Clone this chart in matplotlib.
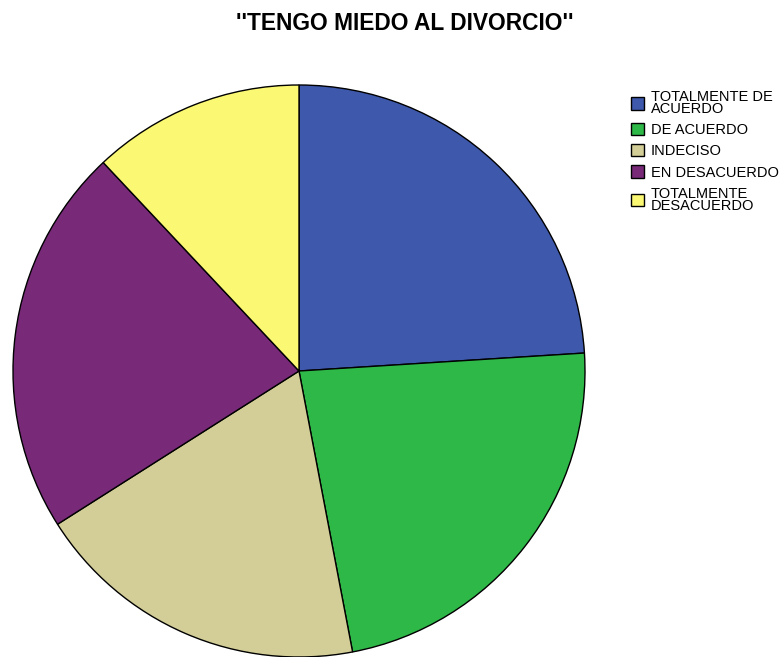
import matplotlib
matplotlib.use('Agg')
import matplotlib.pyplot as plt

# respuestas (porcentaje)
labels = ['TOTALMENTE DE\nACUERDO', 'DE ACUERDO', 'INDECISO',
          'EN DESACUERDO', 'TOTALMENTE\nDESACUERDO']
values = [24, 23, 19, 22, 12]
colors = ['#3E58AC', '#2EB848', '#D3CE97', '#782A79', '#FBF873']

plt.rcParams['font.family'] = ['Liberation Sans', 'DejaVu Sans']

fig = plt.figure(figsize=(7.81, 6.57), dpi=100, facecolor='white')

# pie centered at (299, 371) px, radius 286 px
ax = fig.add_axes([13/781, 0.0, 572/781, 572/657])
wedges, _ = ax.pie(values, colors=colors, startangle=90, counterclock=False,
                   radius=1.0, wedgeprops=dict(edgecolor='black', linewidth=1.0))
ax.set_xlim(-1, 1)
ax.set_ylim(-1, 1)
ax.set_aspect('auto')
ax.axis('off')

fig.text(405/781, 1 - 23/657, "''TENGO MIEDO AL DIVORCIO''", ha='center', va='center',
         fontsize=16.4, fontweight='bold')

leg = fig.legend(wedges, labels, loc='upper left', bbox_to_anchor=(631/781, 1 - 90/657),
                 frameon=False, fontsize=10.5, handlelength=0.92, handleheight=0.92,
                 handletextpad=0.42, labelspacing=0.48, borderpad=0, borderaxespad=0)
for t in leg.get_texts():
    t.set_linespacing(0.82)

fig.savefig('out.png', dpi=100)
